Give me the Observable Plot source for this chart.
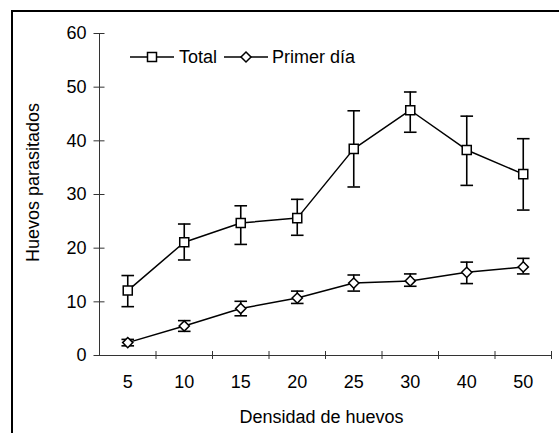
<!DOCTYPE html>
<html>
<head>
<meta charset="utf-8">
<script src="https://cdn.jsdelivr.net/npm/d3@7"></script>
<script src="https://cdn.jsdelivr.net/npm/@observablehq/plot@0.6"></script>
<style>
  html, body { margin: 0; padding: 0; background: #fff; }
  #wrap { position: relative; width: 559px; height: 433px; overflow: hidden; }
  #frame { position: absolute; left: 11px; top: 10px; width: 560px; height: 440px;
           border-top: 2px solid #000; border-left: 2px solid #000; box-sizing: border-box; pointer-events: none; }
  svg { font-family: "Liberation Sans", Arial, sans-serif; }
</style>
</head>
<body>
<div id="wrap"><div id="frame"></div></div>
<script>
const categories = ["5", "10", "15", "20", "25", "30", "40", "50"];
const totalMean  = [12.1, 21.1, 24.7, 25.6, 38.5, 45.7, 38.3, 33.8];
const totalUpper = [14.9, 24.5, 27.9, 29.1, 45.6, 49.1, 44.6, 40.4];
const totalLower = [9.1, 17.8, 20.7, 22.4, 31.4, 41.6, 31.7, 27.1];
const primerMean  = [2.4, 5.5, 8.75, 10.7, 13.5, 13.9, 15.5, 16.5];
const primerUpper = [3.0, 6.5, 10.1, 12.0, 15.0, 15.2, 17.4, 18.1];
const primerLower = [1.8, 4.5, 7.4, 9.7, 12.0, 12.9, 13.4, 15.2];
const yTicks = [0, 10, 20, 30, 40, 50, 60];
const seriesNames = ["Total", "Primer día"];
const xLabel = "Densidad de huevos";
const yLabel = "Huevos parasitados";

const FS = 18;

const rows = (mean, up, lo, name) => categories.map((c, i) => ({
  pos: i + 0.5, cat: c, mean: mean[i], upper: up[i], lower: lo[i], series: name
}));
const total = rows(totalMean, totalUpper, totalLower, seriesNames[0]);
const primer = rows(primerMean, primerUpper, primerLower, seriesNames[1]);
const all = total.concat(primer);

const capSymbol = {
  draw(context, size) {
    const w = Math.sqrt(size / Math.PI);
    context.moveTo(-w, 0);
    context.lineTo(w, 0);
  }
};

const centers = categories.map((c, i) => i + 0.5);
const bounds = d3.range(0, categories.length + 1);

function legend(index, scales, values, dims) {
  const g = d3.create("svg:g")
    .attr("font-family", "Liberation Sans, Arial, sans-serif")
    .attr("font-size", FS)
    .attr("text-anchor", "start");
  const y = 57;
  const items = [
    {x0: 130, x1: 174, text: seriesNames[0], tx: 179, sym: "square"},
    {x0: 224, x1: 268, text: seriesNames[1], tx: 272, sym: "diamond"}
  ];
  for (const it of items) {
    g.append("line").attr("x1", it.x0).attr("x2", it.x1).attr("y1", y).attr("y2", y)
      .attr("stroke", "#000").attr("stroke-width", 1.5);
    const cx = (it.x0 + it.x1) / 2;
    if (it.sym === "square") {
      g.append("rect").attr("x", cx - 4.5).attr("y", y - 4.5).attr("width", 9).attr("height", 9)
        .attr("fill", "#fff").attr("stroke", "#000").attr("stroke-width", 1.5);
    } else {
      g.append("path").attr("d", `M${cx},${y-5}L${cx+5},${y}L${cx},${y+5}L${cx-5},${y}Z`)
        .attr("fill", "#fff").attr("stroke", "#000").attr("stroke-width", 1.5);
    }
    g.append("text").attr("x", it.tx).attr("y", y).attr("dy", "0.35em")
      .attr("text-anchor", "start").attr("fill", "#000").text(it.text);
  }
  return g.node();
}

const chart = Plot.plot({
  width: 559,
  height: 433,
  marginLeft: 99,
  marginRight: 8,
  marginTop: 33,
  marginBottom: 78,
  style: {fontFamily: "Liberation Sans, Arial, sans-serif", fontSize: FS + "px", color: "#000", background: "transparent"},
  x: {domain: [0, categories.length]},
  y: {domain: [0, 60]},
  marks: [
    // axis lines
    Plot.ruleY([0], {stroke: "#333", strokeWidth: 1}),
    Plot.ruleX([0], {y1: 0, y2: 60, stroke: "#333", strokeWidth: 1}),
    // y ticks (crossing) and labels
    Plot.axisY({ticks: yTicks, tickSize: 11, dx: 5.5, tickFormat: () => "", label: null, stroke: "#333"}),
    Plot.axisY({ticks: yTicks, tickSize: 0, tickPadding: 13, label: null, fontSize: FS, fill: "#000"}),
    // x boundary ticks (crossing) and category labels
    Plot.axisX({ticks: bounds.slice(1), tickSize: 8, dy: -4, tickFormat: () => "", label: null, stroke: "#333"}),
    Plot.axisX({ticks: centers, tickSize: 0, tickPadding: 20, tickFormat: (d) => categories[Math.floor(d)], label: null, fontSize: FS, fill: "#000"}),
    // error bars
    Plot.ruleX(all, {x: "pos", y1: "lower", y2: "upper", stroke: "#000", strokeWidth: 1.6}),
    Plot.dot(all, {x: "pos", y: "upper", symbol: capSymbol, r: 6.3, stroke: "#000", strokeWidth: 1.6}),
    Plot.dot(all, {x: "pos", y: "lower", symbol: capSymbol, r: 6.3, stroke: "#000", strokeWidth: 1.6}),
    // lines
    Plot.line(total, {x: "pos", y: "mean", stroke: "#000", strokeWidth: 1.5}),
    Plot.line(primer, {x: "pos", y: "mean", stroke: "#000", strokeWidth: 1.5}),
    // markers
    Plot.dot(total, {x: "pos", y: "mean", symbol: "square", r: 5.1, fill: "#fff", stroke: "#000", strokeWidth: 1.5}),
    Plot.dot(primer, {x: "pos", y: "mean", symbol: "diamond2", r: 4.6, fill: "#fff", stroke: "#000", strokeWidth: 1.5}),
    // axis titles
    Plot.text([xLabel], {frameAnchor: "bottom", textAnchor: "middle", lineAnchor: "middle", dy: 62, dx: -4, fontSize: FS, fill: "#000"}),
    Plot.text([yLabel], {frameAnchor: "left", textAnchor: "middle", lineAnchor: "middle", dx: -66, dy: -12, rotate: -90, fontSize: FS, fill: "#000"}),
    // legend
    legend
  ]
});
document.getElementById("wrap").prepend(chart);
</script>
</body>
</html>
